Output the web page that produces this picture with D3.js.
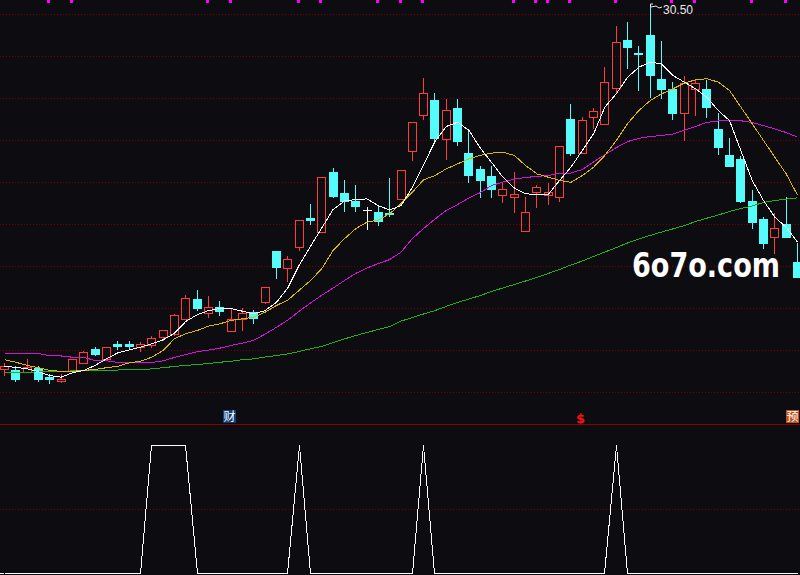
<!DOCTYPE html>
<html><head><meta charset="utf-8">
<script src="https://cdn.jsdelivr.net/npm/d3@7"></script>
<style>html,body{margin:0;padding:0;background:#0d0d11;overflow:hidden}</style>
</head><body><svg id="c" width="800" height="575"></svg>
<script>
// ---- data (prices) ----
const opens=[13.11,13.05,12.94,13.13,12.73,12.54,13.01,13.37,14.05,13.59,
14.29,14.28,14.13,14.22,14.63,14.75,15.46,16.41,15.75,16.03,
14.89,15.46,15.82,16.30,18.71,17.89,18.92,20.30,19.63,22.48,
21.46,21.11,20.65,20.56,20.51,21.18,23.46,25.18,25.89,24.03,
25.51,23.38,22.62,22.27,21.37,21.27,19.65,21.54,21.38,21.30,
25.00,23.40,25.11,24.75,26.49,28.76,28.16,29.00,26.90,26.44,
25.27,26.41,26.43,24.52,23.29,23.10,21.10,20.24,19.40,20.00,18.20];
const closes=[13.24,12.63,13.20,12.63,12.60,12.60,13.56,13.89,13.82,14.13,
14.20,14.21,14.27,14.56,14.94,15.65,16.46,16.01,16.03,15.87,
15.46,15.75,15.51,16.99,17.97,18.33,20.19,20.20,22.22,21.33,
21.11,20.87,20.65,20.16,20.46,22.56,24.84,26.22,24.10,25.41,
23.97,22.35,22.11,21.68,21.65,21.41,20.56,21.75,21.51,23.71,
23.37,24.94,25.38,26.75,28.65,28.44,28.08,27.10,26.43,25.30,
26.70,26.70,25.59,23.68,22.78,21.10,20.11,19.11,19.80,19.40,17.48];
const highs=[13.37,13.24,13.57,13.22,12.84,12.86,13.56,13.95,14.13,14.16,
14.43,14.43,14.40,14.65,14.94,15.70,16.62,16.86,16.57,16.32,
15.99,15.99,15.90,17.00,18.71,18.48,20.19,20.95,22.24,22.67,
22.10,21.86,20.82,20.90,22.20,22.56,24.84,26.95,26.24,25.95,
25.95,24.48,22.78,22.75,21.94,22.48,21.30,21.86,21.94,23.71,
25.70,25.11,25.54,27.46,29.43,29.62,28.48,30.50,28.71,26.78,
27.05,26.86,26.86,25.27,24.08,23.24,21.62,20.35,20.51,21.30,19.08];
const lows=[12.81,12.54,12.94,12.52,12.44,12.49,13.01,13.37,13.76,13.57,
14.05,14.05,13.97,14.13,14.48,14.71,15.46,15.90,15.56,15.67,
14.89,14.97,15.30,16.25,17.44,17.30,18.76,20.00,19.62,21.30,
20.63,20.63,19.78,19.95,20.40,21.18,23.05,24.99,23.92,23.11,
23.78,22.01,21.30,21.30,21.06,20.59,19.65,20.82,20.95,21.11,
23.29,23.40,24.56,24.75,26.22,27.44,26.38,26.03,26.01,24.99,
24.00,25.19,25.11,23.33,22.78,21.03,19.80,18.84,18.60,19.37,17.48];
const ma5=[13.24,13.20,13.13,12.99,12.81,12.73,12.94,13.05,13.29,13.60,
13.89,14.03,14.16,14.32,14.51,14.82,15.38,15.70,15.90,16.00,
16.00,15.87,15.75,15.90,16.29,16.97,18.05,18.95,19.83,20.71,
21.12,21.19,21.22,20.90,20.69,20.90,21.76,22.86,23.95,24.67,
24.87,24.48,23.64,22.95,22.25,21.74,21.46,21.43,21.43,22.10,
22.73,23.52,24.32,25.59,26.22,27.01,27.49,27.73,27.65,27.10,
26.78,26.46,26.06,25.43,24.95,23.52,22.10,21.14,20.35,19.87,19.16];
const ma10=[13.56,13.44,13.29,13.18,13.05,13.01,13.01,13.05,13.10,13.18,
13.25,13.41,13.49,13.68,14.00,14.56,14.80,14.95,15.16,15.27,
15.43,15.51,15.59,15.82,16.14,16.40,16.86,17.33,17.89,18.76,
19.32,19.80,20.11,20.22,20.51,20.99,21.54,22.13,22.33,22.65,
22.89,23.13,23.29,23.40,23.44,23.29,22.81,22.41,22.25,22.10,
22.01,22.33,22.73,23.29,24.00,24.80,25.43,25.90,26.22,26.46,
26.73,26.89,26.94,26.78,26.38,25.59,24.80,24.00,23.20,22.41,21.40];
const ma20=[13.86,13.86,13.86,13.86,13.75,13.74,13.68,13.67,13.52,13.51,
13.43,13.43,13.43,13.43,13.51,13.67,13.81,13.94,14.02,14.11,
14.24,14.35,14.49,14.78,15.10,15.45,15.86,16.26,16.63,16.97,
17.33,17.67,17.93,18.14,18.33,18.68,19.33,19.81,20.26,20.67,
20.95,21.26,21.52,21.86,22.02,22.16,22.24,22.29,22.33,22.44,
22.45,22.62,22.98,23.33,23.66,23.95,24.10,24.19,24.24,24.31,
24.48,24.67,24.86,24.93,24.95,24.94,24.86,24.71,24.55,24.38,24.16];
const ma60=[12.97,12.97,12.97,12.98,12.99,13.00,13.03,13.05,13.05,13.05,
13.07,13.11,13.11,13.12,13.18,13.24,13.29,13.33,13.38,13.44,
13.49,13.56,13.60,13.69,13.76,13.84,13.95,14.08,14.19,14.38,
14.55,14.71,14.86,15.00,15.14,15.40,15.57,15.74,15.90,16.10,
16.29,16.45,16.62,16.81,16.98,17.14,17.31,17.48,17.67,17.86,
18.07,18.26,18.48,18.69,18.90,19.12,19.31,19.48,19.64,19.79,
19.95,20.14,20.30,20.45,20.62,20.76,20.88,21.05,21.14,21.21,21.27];
const signalOn=[13,14,15,16,26,37,54];
const markerIdx=[4,6,18,20,26,28,33,35,37,45,47,48,50,54,59,61,66,69];
const gridPrices=[12,14,16,18,20,22,24,26,28,30];
const highLabel="30.50";
const badges=[{i:20,t:"财",bg:"#0e3f78",fg:"#ffffff"},{i:51,t:"$",bg:null,fg:"#ff1010"},{i:70,t:"预",bg:"#c0501c",fg:"#ffffff"}];
const watermark="6o7o.com";

// ---- drawing ----
const W=800,H=575;
const N=opens.length;
const signal=d3.range(N).map(i=>signalOn.includes(i)?1:0);
const svg=d3.select('#c');
svg.append('rect').attr('width',W).attr('height',H).attr('fill','#0d0d11');
const x=d3.scaleLinear().domain([0,N-1]).range([4,797]);
const y=d3.scaleLinear().domain([12,30]).range([392,14]);
const yi=d3.scaleLinear().domain([0,1]).range([573,445]);
const cxOf=i=>Math.round(x(i));
const py=v=>Math.round(y(v));

// grid via axes
svg.append('g').attr('class','grid').call(d3.axisRight(y).tickValues(gridPrices).tickSize(W).tickFormat(''));
svg.append('g').attr('class','grid').call(d3.axisRight(yi).tickValues([0.5]).tickSize(W).tickFormat(''));
svg.selectAll('.grid .domain').remove();
svg.selectAll('.grid line').attr('stroke','#7a0000').attr('stroke-dasharray','1,2').attr('shape-rendering','crispEdges');
// separator
svg.append('line').attr('x1',0).attr('x2',W).attr('y1',424.5).attr('y2',424.5)
  .attr('stroke','#8a0000').attr('shape-rendering','crispEdges');

const RED='#ff3c3c', CYAN='#54fcfc';
const cg=svg.append('g').attr('shape-rendering','crispEdges');
d3.range(N).forEach(i=>{
  const cx=cxOf(i), o=opens[i], c=closes[i];
  const yo=py(o), yc=py(c), yh=py(highs[i]), yl=py(lows[i]);
  if(c>o){
    cg.append('rect').attr('x',cx-3.5).attr('y',yc+0.5).attr('width',8).attr('height',Math.max(1,yo-yc))
      .attr('fill','none').attr('stroke',RED);
    if(yh<yc) cg.append('line').attr('x1',cx+0.5).attr('x2',cx+0.5).attr('y1',yh).attr('y2',yc).attr('stroke',RED);
    if(yl>yo) cg.append('line').attr('x1',cx+0.5).attr('x2',cx+0.5).attr('y1',yo+1).attr('y2',yl+1).attr('stroke',RED);
  } else if(c<o){
    cg.append('line').attr('x1',cx+0.5).attr('x2',cx+0.5).attr('y1',yh).attr('y2',yl+1).attr('stroke',CYAN);
    cg.append('rect').attr('x',cx-4).attr('y',yo).attr('width',9).attr('height',Math.max(1,yc-yo+1)).attr('fill',CYAN);
  } else {
    cg.append('line').attr('x1',cx+0.5).attr('x2',cx+0.5).attr('y1',yh).attr('y2',yl+1).attr('stroke','#ffffff');
    cg.append('line').attr('x1',cx-4).attr('x2',cx+5).attr('y1',yo+0.5).attr('y2',yo+0.5).attr('stroke','#ffffff');
  }
});

// moving averages
const maDefs=[[ma60,'#1fb01f'],[ma20,'#d414d4'],[ma10,'#d8b800'],[ma5,'#ffffff']];
maDefs.forEach(([arr,col])=>{
  svg.append('path').datum(arr)
    .attr('d',d3.line().x((d,i)=>x(i)+0.5).y(d=>y(d)+0.5))
    .attr('fill','none').attr('stroke',col).attr('stroke-width',1).attr('shape-rendering','crispEdges');
});

// indicator
svg.append('path').datum(signal)
  .attr('d',d3.line().x((d,i)=>cxOf(i)+0.5).y(d=>yi(d)+0.5))
  .attr('fill','none').attr('stroke','#ffffff').attr('stroke-width',1).attr('shape-rendering','crispEdges');
svg.append('line').attr('x1',0).attr('x2',cxOf(0)).attr('y1',yi(0)+0.5).attr('y2',yi(0)+0.5).attr('stroke','#fff').attr('shape-rendering','crispEdges');

// top markers
svg.append('g').selectAll('rect').data(markerIdx).join('rect')
  .attr('x',d=>cxOf(d)-2).attr('y',0).attr('width',3).attr('height',3).attr('fill','#ff00ff');

// badges (kept inside the right edge)
badges.forEach(b=>{
  const cx=Math.min(cxOf(b.i),W-6);
  if(b.bg) svg.append('rect').attr('x',cx-8).attr('y',410).attr('width',13).attr('height',13).attr('fill',b.bg);
  svg.append('text').attr('x',cx-1.5).attr('y',b.bg?421:423).attr('text-anchor','middle')
    .attr('font-family',b.bg?'"Noto Sans CJK SC", sans-serif':'"DejaVu Sans", sans-serif')
    .attr('font-weight',b.bg?'normal':'bold')
    .attr('font-size',b.bg?12:13).attr('fill',b.fg).text(b.t);
});

// high label
const hi=d3.maxIndex(highs), hx=cxOf(hi), hy=py(highs[hi]);
svg.append('path').attr('d',`M${hx+0.5},${hy+3} L${hx+0.5},${hy} L${hx+3},${hy} M${hx+1},${hy+3} L${hx+6},${hy+2} L${hx+9},${hy+4} L${hx+12},${hy+3}`)
  .attr('fill','none').attr('stroke','#e8e8e8').attr('stroke-width',1);
svg.append('text').attr('x',hx+13).attr('y',hy+9.5).attr('font-family','"Liberation Sans", Arial, sans-serif')
  .attr('font-size',12).attr('fill','#e8e8e8').text(highLabel);

// watermark: size to the reference width, then stretch vertically
const wm=svg.append('g');
const wt=wm.append('text').attr('x',0).attr('y',0).attr('font-family','"DejaVu Sans", sans-serif')
  .attr('font-weight','bold').attr('font-size',30).attr('fill','#ffffff').text(watermark);
const natural=wt.node().getComputedTextLength();
const fs=30*148/natural;
wt.attr('font-size',fs);
const sy=24/(0.729*fs);
wm.attr('transform',`translate(632,277) scale(1,${sy})`);
</script></body></html>
